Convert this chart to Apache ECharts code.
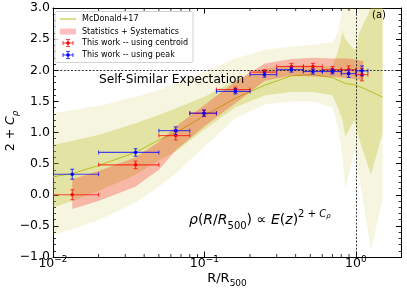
<!DOCTYPE html>
<html><head><meta charset="utf-8">
<script src="https://cdn.jsdelivr.net/npm/echarts@6/dist/echarts.min.js"></script>
<style>html,body{margin:0;padding:0;background:#fff}#c{width:407px;height:291px}</style>
</head><body><div id="c"></div>
<script>
// ---------- data ----------
const binR   = [0.0134, 0.0351, 0.0646, 0.0993, 0.160, 0.249, 0.375, 0.52, 0.70, 0.895, 1.097];
const binLo  = [0.01, 0.02, 0.05, 0.08, 0.12, 0.2, 0.3, 0.45, 0.6, 0.8, 1.0];
const binHi  = [0.02, 0.05, 0.08, 0.12, 0.2, 0.3, 0.45, 0.6, 0.8, 1.0, 1.2];
const centroidY   = [0.0, 0.48, 0.95, 1.31, 1.69, 1.97, 2.06, 2.06, 2.01, 2.01, 1.93];
const centroidErr = [0.08, 0.06, 0.07, 0.05, 0.04, 0.04, 0.05, 0.05, 0.05, 0.06, 0.10];
const peakY   = [0.33, 0.68, 1.03, 1.31, 1.66, 1.93, 2.01, 1.98, 1.98, 1.945, 1.99];
const peakErr = [0.08, 0.06, 0.06, 0.05, 0.04, 0.04, 0.04, 0.04, 0.04, 0.06, 0.08];

const sysR  = [0.0134, 0.02, 0.035, 0.05, 0.065, 0.1, 0.16, 0.25, 0.375, 0.52, 0.7, 0.9, 1.12];
const sysUp = [0.25, 0.38, 0.60, 0.85, 1.10, 1.44, 1.82, 2.11, 2.18, 2.20, 2.19, 2.19, 2.15];
const sysLo = [-0.23, -0.10, 0.13, 0.40, 0.72, 1.10, 1.47, 1.83, 1.91, 1.90, 1.89, 1.87, 1.84];

const mcR = [0.01, 0.0134, 0.02, 0.035, 0.05, 0.065, 0.1, 0.16, 0.25, 0.375, 0.52, 0.7, 0.85, 1.0, 1.1, 1.5];
const mcY = [0.29, 0.34, 0.47, 0.68, 0.88, 1.0, 1.27, 1.55, 1.76, 1.91, 1.93, 1.88, 1.79, 1.76, 1.72, 1.57];

const bandR    = [0.01, 0.02, 0.035, 0.05, 0.065, 0.1, 0.16, 0.25, 0.375, 0.52, 0.7, 0.76, 0.817, 0.851, 0.976, 1.0, 1.05, 1.257, 1.5];
const darkUp   = [0.80, 0.96, 1.15, 1.28, 1.39, 1.575, 1.84, 2.03, 2.08, 2.08, 2.06, 2.3, 2.62, 2.5, 2.33, 2.35, 2.6, 3.0, 3.0];
const darkLo   = [-0.21, 0.06, 0.32, 0.55, 0.70, 1.05, 1.40, 1.60, 1.65, 1.65, 1.60, 1.4, 1.2, 0.93, 1.2, 1.1, 0.9, 0.32, 0.99];
const lightUp  = [1.31, 1.43, 1.575, 1.68, 1.79, 1.98, 2.19, 2.33, 2.38, 2.41, 2.45, 2.6, 3.0, 3.0, 3.0, 2.85, 3.0, 3.0, 3.0];
const lightLo  = [-0.65, -0.41, -0.13, 0.13, 0.35, 0.77, 1.23, 1.45, 1.50, 1.50, 1.40, 1.1, 0.6, 0.08, 0.7, 0.6, 0.3, -0.89, -0.08];

const xMinor = [0.02,0.03,0.04,0.05,0.06,0.07,0.08,0.09,0.2,0.3,0.4,0.5,0.6,0.7,0.8,0.9];
const selfSimilar = 2.0;
const r500 = 1.0;

// ---------- chart ----------
const FONT = 'DejaVu Sans';
const OLIVE = '#bcbd22';
const chart = echarts.init(document.getElementById('c'), null, {renderer:'canvas'});

function band(R, up, lo, color, z) {
  return {type:'custom', z, clip:true, silent:true, xAxisIndex:0, yAxisIndex:0,
    data:[[R[0], up[0]]], encode:{x:0, y:1},
    renderItem(params, api) {
      const pts = [];
      for (let i = 0; i < R.length; i++) pts.push(api.coord([R[i], up[i]]));
      for (let i = R.length - 1; i >= 0; i--) pts.push(api.coord([R[i], lo[i]]));
      return {type:'polygon', shape:{points:pts}, style:{fill:color}};
    }};
}
function errs(Y, E, color, z) {
  return {type:'custom', z, clip:true, silent:true, xAxisIndex:0, yAxisIndex:0,
    data: binR.map((r,i)=>[r, Y[i], binLo[i], binHi[i], E[i]]), encode:{x:0, y:1},
    renderItem(params, api) {
      const r=api.value(0), v=api.value(1), lo=api.value(2), hi=api.value(3), e=api.value(4);
      const c=api.coord([r,v]), L=api.coord([lo,v]), H=api.coord([hi,v]);
      const T=api.coord([r,v+e]), B=api.coord([r,v-e]);
      const st={stroke:color, lineWidth:1.1, opacity:0.7};
      const cp=2;
      return {type:'group', children:[
        {type:'line', shape:{x1:L[0],y1:c[1],x2:H[0],y2:c[1]}, style:st},
        {type:'line', shape:{x1:L[0],y1:c[1]-cp,x2:L[0],y2:c[1]+cp}, style:st},
        {type:'line', shape:{x1:H[0],y1:c[1]-cp,x2:H[0],y2:c[1]+cp}, style:st},
        {type:'line', shape:{x1:c[0],y1:T[1],x2:c[0],y2:B[1]}, style:st},
        {type:'line', shape:{x1:c[0]-cp,y1:T[1],x2:c[0]+cp,y2:T[1]}, style:st},
        {type:'line', shape:{x1:c[0]-cp,y1:B[1],x2:c[0]+cp,y2:B[1]}, style:st},
        {type:'circle', shape:{cx:c[0], cy:c[1], r:1.8}, style:{fill:color}}
      ]};
    }};
}
function legendErr(cx, cy, color) {
  const st = {stroke:color, lineWidth:1.1, opacity:0.7};
  return [
    {type:'line', z:101, shape:{x1:cx-5,y1:cy,x2:cx+5,y2:cy}, style:st},
    {type:'line', z:101, shape:{x1:cx,y1:cy-3.5,x2:cx,y2:cy+3.5}, style:st},
    {type:'line', z:101, shape:{x1:cx-2,y1:cy-3.5,x2:cx+2,y2:cy-3.5}, style:st},
    {type:'line', z:101, shape:{x1:cx-2,y1:cy+3.5,x2:cx+2,y2:cy+3.5}, style:st},
    {type:'line', z:101, shape:{x1:cx-5,y1:cy-2,x2:cx-5,y2:cy+2}, style:st},
    {type:'line', z:101, shape:{x1:cx+5,y1:cy-2,x2:cx+5,y2:cy+2}, style:st},
    {type:'circle', z:102, shape:{cx, cy, r:1.8}, style:{fill:color}}
  ];
}

const axisLineStyle = {show:true, onZero:false, lineStyle:{color:'#000', width:1}};
const xBase = {type:'log', logBase:10, min:0.01, max:2,
  axisLine:axisLineStyle, splitLine:{show:false}, minorTick:{show:false}, minorSplitLine:{show:false},
  axisTick:{show:true, inside:true, length:5.5, lineStyle:{color:'#000', width:1}}};
const yBase = {type:'value', min:-1, max:3, interval:0.5,
  axisLine:axisLineStyle, splitLine:{show:false}, minorSplitLine:{show:false},
  axisTick:{show:true, inside:true, length:5.5, lineStyle:{color:'#000', width:1}},
  minorTick:{show:true, splitNumber:5, length:3, lineStyle:{color:'#000', width:0.8}}};

const option = {
  animation:false,
  backgroundColor:'#fff',
  textStyle:{fontFamily:FONT},
  grid:{left:53, right:5.5, top:8, bottom:34, containLabel:false, outerBoundsMode:'none'},
  xAxis:[
    Object.assign({}, xBase, {position:'bottom',
      axisLabel:{show:true, margin:-2, showMaxLabel:false, color:'#000',
        formatter:(v)=>{const e=Math.round(Math.log10(v)); return '{b|10}{s|'+(e<0?'\u2212':'')+Math.abs(e)+'}';},
        rich:{b:{fontFamily:FONT, fontSize:12.5, color:'#000', lineHeight:15, verticalAlign:'bottom'},
              s:{fontFamily:FONT, fontSize:9, color:'#000', lineHeight:9, verticalAlign:'top'}}}}),
    Object.assign({}, xBase, {position:'top', axisLabel:{show:false}})
  ],
  yAxis:[
    Object.assign({}, yBase, {position:'left',
      axisLabel:{show:true, margin:3, color:'#000', fontFamily:FONT, fontSize:12.5,
        formatter:(v)=>v.toFixed(1).replace('-', '\u2212')}}),
    Object.assign({}, yBase, {position:'right', axisLabel:{show:false}})
  ],
  series:[
    band(bandR, lightUp, lightLo, 'rgba(188,189,34,0.14)', 1),
    band(bandR, darkUp, darkLo, 'rgba(188,189,34,0.32)', 2),
    {type:'line', z:3, xAxisIndex:0, yAxisIndex:0, data:mcR.map((r,i)=>[r, mcY[i]]),
      showSymbol:false, symbol:'none', silent:true, lineStyle:{color:OLIVE, width:1},
      markLine:{silent:true, symbol:'none', animation:false, label:{show:false},
        lineStyle:{color:'#222', width:0.9, type:[2,1.6]},
        data:[{yAxis:selfSimilar}, {xAxis:r500}]}},
    band(sysR, sysUp, sysLo, 'rgba(255,0,0,0.25)', 4),
    errs(centroidY, centroidErr, '#ff0000', 5),
    errs(peakY, peakErr, '#0000ff', 6),
    {type:'custom', z:7, silent:true, xAxisIndex:0, yAxisIndex:0,
      data:xMinor.map(v=>[v, -1]), encode:{x:0, y:1},
      renderItem(params, api){
        const b=api.coord([api.value(0), -1]), t=api.coord([api.value(0), 3]);
        const st={stroke:'#000', lineWidth:0.8};
        return {type:'group', children:[
          {type:'line', shape:{x1:b[0],y1:b[1],x2:b[0],y2:b[1]-3}, style:st},
          {type:'line', shape:{x1:t[0],y1:t[1],x2:t[0],y2:t[1]+3}, style:st}]};
      }}
  ],
  graphic:[
    {type:'rect', z:100, shape:{x:55, y:11.5, width:138, height:51, r:2},
      style:{fill:'rgba(255,255,255,0.8)', stroke:'#d3d3d3', lineWidth:1}},
    {type:'line', z:101, shape:{x1:60, y1:19, x2:76, y2:19}, style:{stroke:OLIVE, lineWidth:1}},
    {type:'rect', z:101, shape:{x:60, y:28.5, width:16, height:6}, style:{fill:'rgba(255,0,0,0.25)'}},
    ...legendErr(68, 43, '#ff0000'),
    ...legendErr(68, 55, '#0000ff'),
    {type:'text', z:101, x:82, y:19, style:{text:'McDonald+17', font:'8px "DejaVu Sans"', fill:'#000', verticalAlign:'middle'}},
    {type:'text', z:101, x:82, y:31.5, style:{text:'Statistics + Systematics', font:'8px "DejaVu Sans"', fill:'#000', verticalAlign:'middle'}},
    {type:'text', z:101, x:82, y:43, style:{text:'This work -- using centroid', font:'8px "DejaVu Sans"', fill:'#000', verticalAlign:'middle'}},
    {type:'text', z:101, x:82, y:55, style:{text:'This work -- using peak', font:'8px "DejaVu Sans"', fill:'#000', verticalAlign:'middle'}},
    {type:'text', z:101, x:99, y:79.5, style:{text:'Self-Similar Expectation', font:'12.2px "DejaVu Sans"', fill:'#000', verticalAlign:'middle'}},
    {type:'text', z:101, x:372, y:15.5, style:{text:'(a)', font:'10px "DejaVu Sans"', fill:'#000', verticalAlign:'middle'}},
    {type:'text', z:101, x:189, y:220, style:{
      text:'{i|\u03c1}{n|(}{i|R}{n|/}{i|R}{sub|500}{n|) \u221d }{i|E}{n|(}{i|z}{n|)}{sup|2 + }{supi|C}{ssub|\u03c1}',
      verticalAlign:'middle',
      rich:{
        i:{fontFamily:FONT, fontSize:14, fontStyle:'italic', fill:'#000', lineHeight:22, verticalAlign:'middle'},
        n:{fontFamily:FONT, fontSize:14, fill:'#000', lineHeight:22, verticalAlign:'middle'},
        sub:{fontFamily:FONT, fontSize:10, fill:'#000', lineHeight:10, verticalAlign:'bottom'},
        sup:{fontFamily:FONT, fontSize:10, fill:'#000', lineHeight:10, verticalAlign:'top'},
        supi:{fontFamily:FONT, fontSize:10, fontStyle:'italic', fill:'#000', lineHeight:10, verticalAlign:'top'},
        ssub:{fontFamily:FONT, fontSize:7, fontStyle:'italic', fill:'#000', lineHeight:7, verticalAlign:'top', padding:[4,0,0,0]}
      }}},
    // axis titles
    {type:'text', z:101, x:227, y:280, style:{
      text:'{n|R/R}{sub|500}', align:'center', verticalAlign:'middle',
      rich:{n:{fontFamily:FONT, fontSize:13, fill:'#000', lineHeight:16, verticalAlign:'top'},
            sub:{fontFamily:FONT, fontSize:9, fill:'#000', lineHeight:9, verticalAlign:'bottom'}}}},
    {type:'text', z:101, x:12, y:131, rotation:Math.PI/2, style:{
      text:'{n|2 + }{i|C}{sub|\u03c1}', align:'center', verticalAlign:'middle',
      rich:{n:{fontFamily:FONT, fontSize:12.5, fill:'#000', lineHeight:16, verticalAlign:'top'},
            i:{fontFamily:FONT, fontSize:12.5, fontStyle:'italic', fill:'#000', lineHeight:16, verticalAlign:'top'},
            sub:{fontFamily:FONT, fontSize:8.5, fontStyle:'italic', fill:'#000', lineHeight:8, verticalAlign:'bottom'}}}}
  ]
};
chart.setOption(option);
</script>
</body></html>
